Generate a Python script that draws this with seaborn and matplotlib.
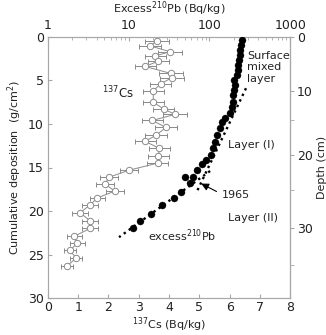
import numpy as np
import matplotlib
matplotlib.use("Agg")
import matplotlib.pyplot as plt
import seaborn as sns

# 137Cs profile (Bq/kg) vs cumulative deposition (g/cm2)
cs_dep = [0.46, 1.03, 1.7, 2.2, 2.8, 3.4, 4.2, 4.7, 5.4, 6.2, 7.5, 8.3, 8.9, 9.6,
          10.4, 11.3, 12.0, 12.8, 13.7, 14.5, 15.3, 16.1, 16.9, 17.7, 18.5, 19.3,
          20.2, 21.1, 22.0, 22.9, 23.7, 24.5, 25.4, 26.3]
cs_val = [3.6, 3.37, 4.03, 3.54, 3.64, 3.21, 4.06, 4.09, 3.72, 3.48, 3.48, 3.83, 4.2, 3.45,
          3.9, 3.57, 3.21, 3.68, 3.65, 3.62, 2.69, 2.03, 1.88, 2.21, 1.63, 1.39,
          1.06, 1.39, 1.39, 0.87, 0.97, 0.73, 0.93, 0.64]
cs_err = [0.4, 0.35, 0.4, 0.35, 0.35, 0.35, 0.4, 0.4, 0.35, 0.35, 0.35, 0.35, 0.4, 0.35,
          0.35, 0.35, 0.35, 0.35, 0.35, 0.35, 0.3, 0.3, 0.3, 0.3, 0.25, 0.25,
          0.25, 0.25, 0.25, 0.25, 0.25, 0.2, 0.2, 0.2]

# excess 210Pb (Bq/kg)
pb_dep = [0.34, 0.92, 1.49, 2.07, 2.64, 3.22, 3.79, 4.37, 4.94, 5.52, 6.09, 6.67, 7.44,
          8.05, 8.74, 9.31, 9.74, 10.5, 11.3, 12.1, 12.8, 13.6, 14.1, 14.6, 15.3,
          16.1, 16.1, 16.8, 17.8, 18.5, 19.3, 20.3, 21.1, 22.0]
pb_val = [251, 244, 239, 236, 233, 229, 226, 220, 202, 208, 202, 196, 198,
          188, 180, 156, 142, 135, 124, 117, 112, 104, 91, 80, 70,
          50, 63, 58, 45, 36, 26, 19, 14, 11.2]

# regression lines (log Pb vs deposition)
fit1_dep = [5.9, 18.0]
fit1_pb = [284, 68]
fit2_dep = [15.4, 23.0]
fit2_pb = [102, 7.6]

# depth (cm) equivalents of cumulative deposition
map_dep = [0, 6.2, 9.5, 13.6, 17.6, 22.0, 26.2, 30]
map_cm = [0, 10, 15, 20, 25, 30, 35, 39.5]

sns.set_style("ticks")
plt.rcParams["font.family"] = ["DejaVu Sans"]
grey = "#a8a8a8"
txt = "#222222"
plt.rcParams.update({"axes.edgecolor": grey, "xtick.color": grey, "ytick.color": grey,
                     "xtick.labelcolor": txt, "ytick.labelcolor": txt,
                     "axes.labelcolor": txt, "text.color": txt})

fig = plt.figure(figsize=(3.26, 3.35), dpi=100)
ax = fig.add_axes([0.147, 0.110, 0.743, 0.780])

ax.errorbar(cs_val, cs_dep, xerr=cs_err, fmt="none", ecolor="#8a8a8a",
            elinewidth=0.7, capsize=1.8, capthick=0.7, zorder=2)
ax.plot(cs_val, cs_dep, color="#8a8a8a", lw=0.7, zorder=2)
ax.plot(cs_val, cs_dep, "o", ms=4.6, mfc="white", mec="#8a8a8a", mew=0.7, zorder=3)

ax.set_xlim(0, 8)
ax.set_ylim(30, 0)
ax.set_xticks(range(0, 9))
ax.set_yticks(range(0, 31, 5))
ax.tick_params(direction="in", length=3, labelsize=9, pad=2)
ax.tick_params(axis="y", pad=3)
ax.set_xlabel("$^{137}$Cs (Bq/kg)", fontsize=8, labelpad=1)
ax.set_ylabel("Cumulative deposition  (g/cm$^2$)", fontsize=8, labelpad=3)

top = ax.twiny()
top.set_xscale("log")
top.set_xlim(1, 1000)
sns.scatterplot(x=pb_val, y=pb_dep, ax=top, color="black", s=26, edgecolor="black",
                linewidth=0.2, zorder=4, legend=False)
top.plot(fit1_pb, fit1_dep, color="black", ls=(0, (1, 1.6)), lw=1.7, zorder=3)
top.plot(fit2_pb, fit2_dep, color="black", ls=(0, (1, 1.6)), lw=1.7, zorder=3)
top.set_xticks([1, 10, 100, 1000])
top.set_xticklabels(["1", "10", "100", "1000"])
top.tick_params(which="both", direction="in", labelsize=9, pad=3.5)
top.tick_params(which="major", length=3)
top.tick_params(which="minor", length=2)
top.set_xlabel("Excess$^{210}$Pb (Bq/kg)", fontsize=8, labelpad=4.5)
top.set_ylim(30, 0)

right = ax.secondary_yaxis(
    "right",
    functions=(lambda d: np.interp(d, map_dep, map_cm),
               lambda c: np.interp(c, map_cm, map_dep)))
right.set_yticks([0, 10, 20, 30])
right.set_yticks([15, 25, 35], minor=True)
right.tick_params(which="both", direction="out", length=3, labelsize=9, pad=2)
right.set_ylabel("Depth (cm)", fontsize=8, labelpad=3)

# labels inside the plot (Cs-axis data coordinates)
ax.text(6.58, 1.6, "Surface\nmixed\nlayer", fontsize=8, va="top", ha="left",
        linespacing=1.2)
ax.text(5.95, 12.4, "Layer (I)", fontsize=8, va="center")
ax.text(5.75, 18.2, "1965", fontsize=8, va="center")
ax.text(5.95, 20.8, "Layer (II)", fontsize=8, va="center")
ax.text(3.3, 22.8, "excess$^{210}$Pb", fontsize=8, va="center")
ax.text(1.8, 6.5, "$^{137}$Cs", fontsize=8.5, va="center")
ax.annotate("", xy=(4.98, 16.7), xytext=(5.65, 17.9),
            arrowprops=dict(arrowstyle="-|>", color="black", lw=0.8,
                            mutation_scale=11))

fig.savefig("out.png", dpi=100)
